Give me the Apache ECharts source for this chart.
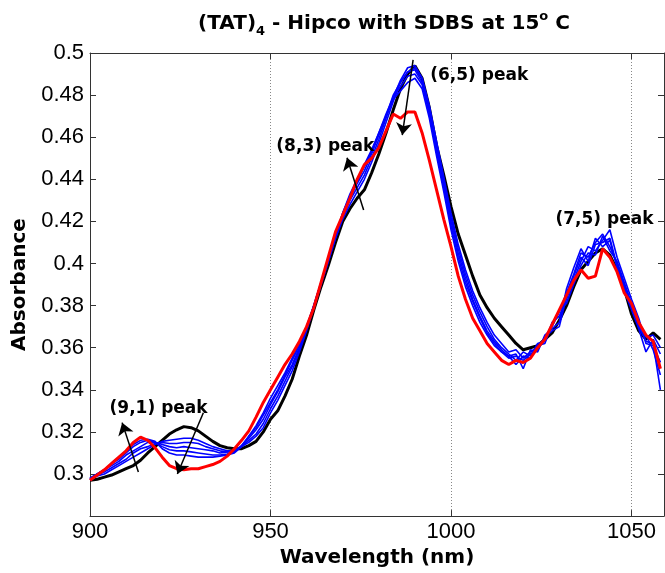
<!DOCTYPE html>
<html>
<head>
<meta charset="utf-8">
<script src="https://cdn.jsdelivr.net/npm/echarts@6/dist/echarts.min.js"></script>
<style>
  html, body { margin: 0; padding: 0; background: #fff; }
  #main { width: 665px; height: 573px; }
</style>
</head>
<body>
<div id="main"></div>
<script>
// wavelength (nm)
const wavelength = [
  900, 902, 904, 906, 908, 910, 912, 914, 916, 918,
  920, 922, 924, 926, 928, 930, 932, 934, 936, 938,
  940, 942, 944, 946, 948, 950, 952, 954, 956, 958,
  960, 962, 964, 966, 968, 970, 972, 974, 976, 978,
  980, 982, 984, 986, 988, 990, 992, 994, 996, 998,
  1000, 1002, 1004, 1006, 1008, 1010, 1012, 1014, 1016, 1018,
  1020, 1022, 1024, 1026, 1028, 1030, 1032, 1034, 1036, 1038,
  1040, 1042, 1044, 1046, 1048, 1050, 1052, 1054, 1056, 1058
]
// 初始 (黑)
const blackTrace = [
  0.297, 0.2975, 0.2985, 0.2995, 0.301, 0.3025, 0.304, 0.3065, 0.310, 0.313,
  0.316, 0.319, 0.321, 0.3225, 0.322, 0.3205, 0.318, 0.3155, 0.3135, 0.3125,
  0.312, 0.312, 0.3135, 0.3155, 0.320, 0.326, 0.330, 0.337, 0.345, 0.356,
  0.366, 0.378, 0.389, 0.399, 0.410, 0.420, 0.426, 0.431, 0.435, 0.443,
  0.452, 0.462, 0.473, 0.483, 0.490, 0.494, 0.488, 0.474, 0.456, 0.442,
  0.427, 0.414, 0.404, 0.394, 0.385, 0.379, 0.374, 0.370, 0.366, 0.362,
  0.359, 0.360, 0.361, 0.364, 0.367, 0.373, 0.380, 0.389, 0.397, 0.401,
  0.405, 0.407, 0.404, 0.397, 0.388, 0.376, 0.368, 0.364, 0.367, 0.364
]
// 中间 (蓝)
const blue1 = [
  0.297, 0.299, 0.300, 0.302, 0.304, 0.306, 0.308, 0.310, 0.312, 0.314,
  0.3155, 0.316, 0.3165, 0.317, 0.317, 0.316, 0.3145, 0.313, 0.312, 0.311,
  0.311, 0.313, 0.315, 0.318, 0.322, 0.329, 0.335, 0.342, 0.349, 0.358,
  0.368, 0.379, 0.390, 0.401, 0.412, 0.421, 0.428, 0.434, 0.440, 0.448,
  0.457, 0.467, 0.477, 0.486, 0.491, 0.493, 0.488, 0.475, 0.458, 0.441,
  0.424, 0.409, 0.397, 0.387, 0.379, 0.372, 0.366, 0.362, 0.358, 0.359,
  0.355, 0.358, 0.360, 0.364, 0.370, 0.377, 0.386, 0.395, 0.405, 0.403,
  0.410, 0.414, 0.408, 0.400, 0.390, 0.380, 0.371, 0.365, 0.366, 0.360
]
const blue2 = [
  0.2975, 0.2995, 0.301, 0.303, 0.305, 0.307, 0.310, 0.312, 0.313, 0.3145,
  0.315, 0.3145, 0.3145, 0.315, 0.315, 0.3145, 0.313, 0.312, 0.311, 0.3105,
  0.311, 0.313, 0.316, 0.319, 0.324, 0.331, 0.337, 0.344, 0.351, 0.359,
  0.369, 0.379, 0.390, 0.401, 0.412, 0.422, 0.430, 0.436, 0.442, 0.450,
  0.459, 0.469, 0.479, 0.487, 0.493, 0.494, 0.488, 0.474, 0.457, 0.440,
  0.422, 0.407, 0.395, 0.385, 0.377, 0.370, 0.364, 0.360, 0.357, 0.354,
  0.358, 0.356, 0.362, 0.363, 0.372, 0.375, 0.383, 0.392, 0.401, 0.408,
  0.406, 0.411, 0.416, 0.403, 0.393, 0.383, 0.374, 0.362, 0.361, 0.353
]
const blue3 = [
  0.298, 0.300, 0.302, 0.304, 0.306, 0.309, 0.311, 0.313, 0.315, 0.315,
  0.314, 0.313, 0.3125, 0.313, 0.3125, 0.312, 0.3115, 0.311, 0.310, 0.3105,
  0.311, 0.3135, 0.317, 0.321, 0.326, 0.333, 0.339, 0.346, 0.352, 0.360,
  0.369, 0.380, 0.391, 0.402, 0.413, 0.423, 0.431, 0.438, 0.444, 0.452,
  0.461, 0.470, 0.480, 0.486, 0.491, 0.492, 0.486, 0.473, 0.455, 0.438,
  0.420, 0.405, 0.393, 0.383, 0.375, 0.368, 0.363, 0.359, 0.356, 0.357,
  0.350, 0.359, 0.358, 0.366, 0.369, 0.372, 0.388, 0.398, 0.407, 0.401,
  0.412, 0.408, 0.411, 0.398, 0.387, 0.378, 0.369, 0.358, 0.364, 0.357
]
const blue4 = [
  0.298, 0.300, 0.302, 0.305, 0.307, 0.310, 0.313, 0.315, 0.316, 0.315,
  0.313, 0.3115, 0.311, 0.311, 0.3105, 0.310, 0.3095, 0.309, 0.309, 0.3095,
  0.3105, 0.3135, 0.318, 0.322, 0.328, 0.334, 0.340, 0.347, 0.354, 0.361,
  0.370, 0.380, 0.391, 0.402, 0.413, 0.424, 0.432, 0.439, 0.446, 0.453,
  0.462, 0.471, 0.479, 0.484, 0.489, 0.490, 0.485, 0.471, 0.453, 0.436,
  0.418, 0.403, 0.391, 0.382, 0.374, 0.367, 0.362, 0.358, 0.356, 0.352,
  0.356, 0.355, 0.361, 0.362, 0.371, 0.378, 0.381, 0.390, 0.399, 0.405,
  0.404, 0.413, 0.406, 0.401, 0.391, 0.381, 0.372, 0.366, 0.359, 0.347
]
const blue5 = [
  0.2975, 0.300, 0.302, 0.305, 0.308, 0.311, 0.314, 0.316, 0.3165, 0.3155,
  0.312, 0.310, 0.309, 0.309, 0.3085, 0.308, 0.308, 0.308, 0.3085, 0.309,
  0.310, 0.313, 0.318, 0.323, 0.329, 0.336, 0.342, 0.348, 0.355, 0.362,
  0.370, 0.380, 0.391, 0.402, 0.413, 0.424, 0.433, 0.440, 0.447, 0.454,
  0.462, 0.470, 0.478, 0.482, 0.486, 0.488, 0.483, 0.469, 0.451, 0.434,
  0.416, 0.401, 0.389, 0.380, 0.372, 0.366, 0.361, 0.358, 0.355, 0.356,
  0.354, 0.357, 0.359, 0.365, 0.368, 0.370, 0.384, 0.394, 0.403, 0.399,
  0.409, 0.410, 0.412, 0.399, 0.389, 0.379, 0.370, 0.363, 0.362, 0.340
]
// 最终 (红)
const redTrace = [
  0.297, 0.2995, 0.302, 0.305, 0.308, 0.311, 0.315, 0.3175, 0.316, 0.3125,
  0.308, 0.304, 0.3025, 0.302, 0.3025, 0.3025, 0.3035, 0.3045, 0.306, 0.3085,
  0.312, 0.316, 0.3205, 0.327, 0.334, 0.340, 0.346, 0.352, 0.357, 0.363,
  0.370, 0.379, 0.391, 0.403, 0.415, 0.423, 0.431, 0.440, 0.447, 0.450,
  0.455, 0.463, 0.471, 0.469, 0.472, 0.472, 0.462, 0.449, 0.435, 0.421,
  0.408, 0.394, 0.383, 0.374, 0.368, 0.362, 0.358, 0.354, 0.352, 0.354,
  0.353, 0.355, 0.360, 0.364, 0.371, 0.378, 0.385, 0.392, 0.397, 0.393,
  0.394, 0.407, 0.403, 0.396, 0.386, 0.381, 0.372, 0.366, 0.363, 0.350
]
const blueTraces = [blue1, blue2, blue3, blue4, blue5]

// 峰标注 文字 + 箭头 (数据坐标)
const peakLabels = [
  { text: '(9,1) peak', at: [919, 0.331] },
  { text: '(8,3) peak', at: [965.2, 0.4557] },
  { text: '(6,5) peak', at: [1007.8, 0.4893] },
  { text: '(7,5) peak', at: [1042.5, 0.421] }
]
const peakArrows = [
  [[913.4, 0.301], [908.9, 0.3244]],
  [[931.4, 0.3291], [924.2, 0.300]],
  [[975.8, 0.4254], [971.2, 0.4502]],
  [[989.5, 0.4967], [986.5, 0.461]]
]

const yTicks = { min: 0.28, max: 0.5, step: 0.02 }
const xTicks = { min: 900, max: 1059, step: 50 }

function pairs(ys) {
  return wavelength.map((x, i) => [x, ys[i]])
}

const boldFont = 'DejaVu Sans'
const tickFont = 'Liberation Sans'

const chart = echarts.init(document.getElementById('main'), null, { renderer: 'canvas' })

const series = []
series.push({
  type: 'line', data: pairs(blackTrace), showSymbol: false, symbol: 'none',
  lineStyle: { color: '#000', width: 3 }, animation: false, z: 2
})
blueTraces.forEach(b => {
  series.push({
    type: 'line', data: pairs(b), showSymbol: false, symbol: 'none',
    lineStyle: { color: '#0000ff', width: 1.6 }, animation: false, z: 3
  })
})
series.push({
  type: 'line', data: pairs(redTrace), showSymbol: false, symbol: 'none',
  lineStyle: { color: '#ff0000', width: 3 }, animation: false, z: 4
})
// 标注用空系列
series.push({
  type: 'line', data: [], animation: false, z: 6, silent: true,
  markLine: {
    silent: true, animation: false,
    symbol: ['none', 'arrow'], symbolSize: 12,
    label: { show: false },
    lineStyle: { color: '#000', width: 1.5, type: 'solid' },
    emphasis: { disabled: true },
    data: peakArrows.map(a => [{ coord: a[0] }, { coord: a[1] }])
  },
  markPoint: {
    silent: true, animation: false,
    symbol: 'rect', symbolSize: 1,
    itemStyle: { color: 'rgba(0,0,0,0)' },
    label: {
      show: true, position: 'inside', color: '#000',
      fontFamily: boldFont, fontWeight: 'bold', fontSize: 17,
      formatter: p => p.name
    },
    data: peakLabels.map(l => ({ name: l.text, coord: l.at }))
  }
})

const option = {
  backgroundColor: '#fff',
  animation: false,
  title: {
    text: '(TAT){sub|4} - Hipco with SDBS at 15{sup|o} C',
    left: 379, top: 5, textAlign: 'center',
    textStyle: {
      fontFamily: boldFont, fontWeight: 'bold', fontSize: 20, color: '#000',
      lineHeight: 28,
      rich: {
        sub: { fontFamily: boldFont, fontWeight: 'bold', fontSize: 13, lineHeight: 10, verticalAlign: 'bottom' },
        sup: { fontFamily: boldFont, fontWeight: 'bold', fontSize: 13, lineHeight: 10, verticalAlign: 'top' }
      }
    }
  },
  grid: { left: 90, right: 1, top: 53, bottom: 50, containLabel: false },
  xAxis: [{
    type: 'value', min: xTicks.min, max: xTicks.max, interval: xTicks.step,
    name: 'Wavelength (nm)', nameLocation: 'middle', nameGap: 26,
    nameTextStyle: { fontFamily: boldFont, fontWeight: 'bold', fontSize: 20, color: '#000' },
    axisLine: { show: true, lineStyle: { color: '#333', width: 1 } },
    axisTick: { show: true, inside: true, length: 6, lineStyle: { color: '#333' } },
    axisLabel: {
      showMaxLabel: false, margin: 5, fontFamily: tickFont, fontSize: 22, color: '#000',
      formatter: v => String(v)
    },
    splitLine: { show: true, lineStyle: { color: '#888', type: [1, 2], width: 1 } }
  }, {
    type: 'value', position: 'top', min: xTicks.min, max: xTicks.max, interval: xTicks.step,
    axisLine: { show: true, lineStyle: { color: '#333', width: 1 } },
    axisTick: { show: true, inside: true, length: 6, lineStyle: { color: '#333' } },
    axisLabel: { show: false }, splitLine: { show: false }
  }],
  yAxis: [{
    type: 'value', min: yTicks.min, max: yTicks.max, interval: yTicks.step,
    name: 'Absorbance', nameLocation: 'middle', nameGap: 58,
    nameTextStyle: { fontFamily: boldFont, fontWeight: 'bold', fontSize: 20, color: '#000' },
    axisLine: { show: true, lineStyle: { color: '#333', width: 1 } },
    axisTick: { show: true, inside: true, length: 6, lineStyle: { color: '#333' } },
    axisLabel: {
      margin: 6, fontFamily: tickFont, fontSize: 22, color: '#000',
      formatter: v => (v < 0.29 ? '' : String(parseFloat(v.toFixed(2))))
    },
    splitLine: { show: false }
  }, {
    type: 'value', position: 'right', min: yTicks.min, max: yTicks.max, interval: yTicks.step,
    axisLine: { show: true, lineStyle: { color: '#333', width: 1 } },
    axisTick: { show: true, inside: true, length: 6, lineStyle: { color: '#333' } },
    axisLabel: { show: false }, splitLine: { show: false }
  }],
  series: series
}

chart.setOption(option)
</script>
</body>
</html>
